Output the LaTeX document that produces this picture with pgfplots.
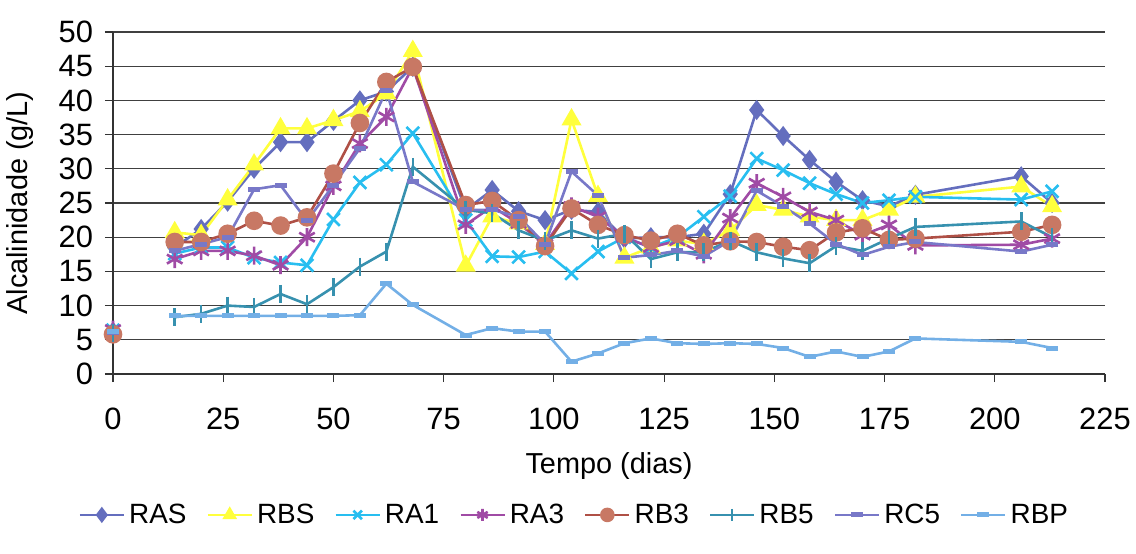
\documentclass[border=0pt]{standalone}
\usepackage{fontspec}
\setmainfont{Liberation Sans}
\usepackage{pgfplots}
\usepackage{pgfplotstable}
\pgfplotsset{compat=1.18}

\definecolor{cRAS}{RGB}{100,110,190}
\definecolor{cRBS}{RGB}{255,255,60}
\definecolor{cRA1}{RGB}{40,190,240}
\definecolor{cRA3}{RGB}{160,75,165}
\definecolor{cRB3}{RGB}{175,80,70}
\definecolor{cRB3m}{RGB}{200,120,100}
\definecolor{cRB5}{RGB}{55,145,175}
\definecolor{cRC5}{RGB}{120,120,200}
\definecolor{cRBP}{RGB}{115,175,230}

\pgfplotstableread{
t   RAS  RBS  RA1  RA3  RB3  RB5  RC5  RBP
0   6.2  nan  6.4  6.5  5.8  6.0  6.0  6.2
7   nan  nan  nan  nan  nan  nan  nan  nan
14  18.5 20.7 17.6 16.8 19.3 8.3  18.0 8.5
20  21.2 20.3 18.5 18.0 19.3 8.8  19.0 8.5
26  25.2 25.5 18.5 18.0 20.5 10.0 20.0 8.5
32  30.0 30.6 17.0 17.3 22.4 9.8  27.0 8.5
38  33.9 35.9 16.3 15.9 21.7 11.7 27.6 8.5
44  33.9 35.9 15.9 20.0 22.9 10.2 22.4 8.5
50  37.0 37.1 22.6 27.5 29.3 12.7 27.6 8.5
56  40.0 38.4 28.0 33.7 36.7 15.7 33.0 8.6
62  41.3 41.0 30.6 37.6 42.7 17.9 41.5 13.2
68  44.9 47.2 35.2 44.9 44.9 30.3 28.1 10.1
80  24.0 15.8 22.5 21.8 24.7 24.0 24.0 5.7
86  26.9 23.0 17.2 24.5 25.3 23.5 24.0 6.7
92  23.8 22.0 17.1 22.0 22.5 21.0 23.0 6.2
98  22.5 19.0 17.9 19.0 18.7 19.5 19.0 6.2
104 24.0 37.2 14.7 24.5 24.2 21.0 29.6 1.8
110 23.7 26.0 17.9 23.0 21.8 19.8 26.1 3.0
116 19.8 17.0 20.0 20.0 20.3 20.5 17.0 4.5
122 20.0 18.5 18.5 18.5 19.5 16.8 17.4 5.2
128 20.0 19.5 20.0 19.5 20.5 17.8 18.0 4.5
134 20.5 19.0 23.0 17.5 18.8 17.8 17.2 4.4
140 26.3 21.0 26.0 22.8 19.4 19.5 19.5 4.5
146 38.6 24.7 31.5 27.9 19.3 17.8 26.8 4.4
152 34.8 24.0 29.8 25.9 18.6 16.9 24.5 3.8
158 31.3 23.0 27.9 23.7 18.1 16.2 22.0 2.5
164 28.1 22.5 26.3 22.5 20.7 18.7 19.0 3.3
170 25.4 22.5 25.0 20.3 21.3 18.0 17.4 2.5
176 24.5 24.0 25.4 21.8 19.6 19.8 18.6 3.3
182 26.2 25.9 25.9 18.8 19.8 21.5 19.3 5.2
206 28.9 27.4 25.5 18.9 20.8 22.3 17.9 4.7
213 25.0 24.5 26.7 19.8 21.8 20.0 18.9 3.8
}\data

\begin{document}
\begin{tikzpicture}
\begin{axis}[
  name=ax,
  at={(0,0)}, anchor=south west,
  scale only axis,
  width=496bp, height=171bp,
  xmin=0, xmax=225, ymin=0, ymax=50,
  xtick={0,25,...,225}, ytick={0,5,...,50},
  axis lines=left,
  axis line style={-, draw=black!80, line width=0.6bp},
  ymajorgrids,
  grid style={black!75, line width=0.6bp},
  tick style={black!80, line width=0.6bp},
  major tick length=4bp,
  tick align=outside,
  unbounded coords=jump,
  /pgf/number format/assume math mode=true,
  tick label style={font=\fontsize{15.5}{17}\selectfont},
  xticklabel style={yshift=-9.5bp},
  yticklabel style={xshift=-2.5bp},
  xlabel={Tempo (dias)},
  ylabel={Alcalinidade (g/L)},
  label style={font=\fontsize{14.5}{16}\selectfont},
  xlabel style={at={(axis description cs:0.5,-0.27)}, anchor=center},
  ylabel style={at={(axis description cs:-0.094,0.5)}, anchor=center},
  legend columns=8,
  legend style={at={(0.466,-0.412)}, anchor=center, draw=none,
    font=\fontsize{14}{16}\selectfont,
    /tikz/every even column/.append style={column sep=8bp}},
  legend image code/.code={\draw[mark repeat=2,mark phase=2,mark size=3bp] plot coordinates {(0bp,0bp)(11bp,0bp)(22bp,0bp)};},
  every axis plot/.append style={line width=1.3bp},
]
\addplot[color=cRAS, mark=diamond*, mark size=4bp, mark options={fill=cRAS, solid}] table[x=t,y=RAS] {\data};
\addlegendentry{RAS}
\addplot[color=cRBS, mark=triangle*, mark size=4.5bp, mark options={fill=cRBS, solid}] table[x=t,y=RBS] {\data};
\addlegendentry{RBS}
\addplot[color=cRA1, mark=x, mark size=4.5bp, mark options={solid}] table[x=t,y=RA1] {\data};
\addlegendentry{RA1}
\addplot[color=cRA3, mark=asterisk, mark size=4.5bp, mark options={solid}] table[x=t,y=RA3] {\data};
\addlegendentry{RA3}
\addplot[color=cRB3, mark=*, mark size=4bp, mark options={fill=cRB3m, draw=cRB3m, solid}] table[x=t,y=RB3] {\data};
\addlegendentry{RB3}
\addplot[color=cRB5, mark=|, mark size=4.5bp, mark options={solid}] table[x=t,y=RB5] {\data};
\addlegendentry{RB5}
\addplot[color=cRC5, mark=-, mark size=3bp, mark options={solid, line width=2.5bp}] table[x=t,y=RC5] {\data};
\addlegendentry{RC5}
\addplot[color=cRBP, mark=-, mark size=3bp, mark options={solid, line width=2.5bp}] table[x=t,y=RBP] {\data};
\addlegendentry{RBP}
\end{axis}
\pgfresetboundingbox
\path ([shift={(-56.5bp,-90bp)}]ax.south west) rectangle ([shift={(15.5bp,16bp)}]ax.north east);
\end{tikzpicture}
\end{document}
